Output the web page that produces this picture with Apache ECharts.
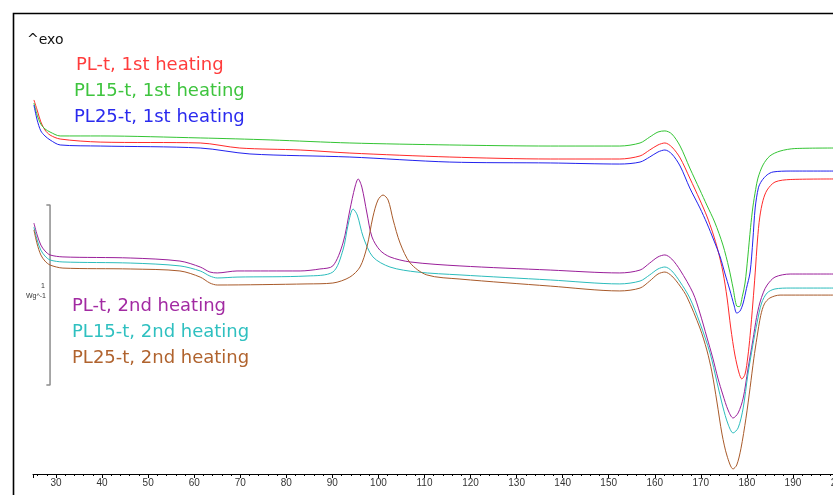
<!DOCTYPE html>
<html>
<head>
<meta charset="utf-8">
<script src="https://cdn.jsdelivr.net/npm/echarts@6/dist/echarts.min.js"></script>
<style>
html,body{margin:0;padding:0;background:#fff;}
#chart{width:833px;height:495px;}
</style>
</head>
<body>
<div id="chart"></div>
<script>
// Temperature (°C) vs. heat flow (W/g, curves vertically offset), exo up
var seriesNames = [
  "PL-t, 1st heating", "PL15-t, 1st heating", "PL25-t, 1st heating",
  "PL-t, 2nd heating", "PL15-t, 2nd heating", "PL25-t, 2nd heating"
];
var seriesColors = ["#ff2a2a", "#33c433", "#2222ee", "#9a1f9a", "#2cbcbc", "#a85a2a"];
var textColors = ["#ff3c3c", "#3ec43e", "#2a2aee", "#a22aa2", "#2fc0c0", "#b0632e"];

var pl1 = [
  [25.2,2.078],[25.9,2.022],[26.7,1.956],[27.6,1.911],[28.7,1.883],[30.9,1.861],[39.6,1.844],
  [61.3,1.839],[69.9,1.811],[83.0,1.800],[93.8,1.783],[115.5,1.761],[137.3,1.750],[152.4,1.750],
  [156.8,1.767],[158.9,1.800],[160.7,1.828],[162.2,1.839],[163.7,1.817],[165.5,1.756],[167.6,1.644],
  [169.8,1.522],[171.3,1.433],[172.6,1.339],[173.7,1.244],[174.8,1.122],[175.7,0.978],[176.5,0.811],
  [177.4,0.661],[178.3,0.561],[178.9,0.528],[179.6,0.555],[180.2,0.650],[180.7,0.770],[181.3,0.950],
  [181.8,1.117],[182.3,1.300],[182.8,1.428],[183.5,1.520],[184.4,1.578],[186.1,1.622],[189.4,1.636],
  [199.0,1.639]
];
var pl15_1 = [
  [25.2,2.061],[25.9,1.994],[26.7,1.944],[27.6,1.917],[28.7,1.900],[30.9,1.878],[39.6,1.878],
  [61.3,1.867],[76.5,1.856],[93.8,1.839],[115.5,1.828],[137.3,1.822],[152.4,1.822],[156.8,1.839],
  [158.9,1.872],[160.7,1.900],[162.2,1.906],[163.7,1.889],[165.5,1.822],[167.6,1.700],[169.8,1.578],
  [171.3,1.494],[173.0,1.400],[174.8,1.272],[176.1,1.144],[177.0,1.033],[177.8,0.933],[178.4,0.930],
  [179.0,0.985],[179.6,1.061],[180.2,1.206],[180.8,1.370],[181.3,1.483],[181.9,1.580],[182.4,1.644],
  [183.5,1.717],[185.0,1.767],[187.2,1.794],[190.4,1.808],[199.0,1.811]
];
var pl25_1 = [
  [25.2,2.050],[25.9,1.967],[26.7,1.906],[27.6,1.878],[28.7,1.856],[30.9,1.828],[39.6,1.822],
  [61.3,1.811],[72.1,1.778],[93.8,1.761],[115.5,1.733],[137.3,1.728],[152.4,1.722],[156.8,1.733],
  [158.9,1.761],[160.7,1.789],[162.2,1.800],[163.7,1.778],[165.5,1.711],[167.6,1.589],[169.8,1.478],
  [171.3,1.394],[172.8,1.300],[174.2,1.206],[175.2,1.117],[176.3,1.022],[177.2,0.939],[177.8,0.894],
  [178.5,0.905],[179.2,0.950],[179.9,1.030],[180.7,1.122],[181.3,1.300],[181.8,1.478],[182.5,1.590],
  [183.2,1.628],[184.4,1.662],[185.7,1.678],[189.4,1.683],[199.0,1.683]
];
var pl2 = [
  [25.2,1.394],[25.9,1.328],[26.7,1.272],[27.6,1.239],[28.7,1.217],[31.5,1.206],[46.1,1.200],
  [56.9,1.183],[61.3,1.150],[63.4,1.122],[65.0,1.117],[69.3,1.128],[83.0,1.128],[87.3,1.139],
  [90.1,1.156],[92.3,1.283],[93.8,1.467],[94.9,1.594],[95.6,1.639],[96.4,1.594],[97.5,1.450],
  [98.6,1.317],[100.3,1.244],[102.5,1.206],[106.9,1.178],[117.7,1.156],[137.3,1.133],[152.4,1.117],
  [156.8,1.133],[158.9,1.172],[160.7,1.206],[162.2,1.217],[163.7,1.194],[165.5,1.133],[168.3,1.006],
  [169.8,0.894],[171.3,0.761],[172.6,0.644],[173.7,0.533],[174.8,0.439],[175.9,0.356],[177.0,0.311],
  [178.1,0.339],[179.2,0.422],[180.2,0.578],[181.3,0.744],[182.1,0.870],[182.8,0.950],[183.6,1.010],
  [184.4,1.050],[186.1,1.094],[189.4,1.111],[199.0,1.111]
];
var pl15_2 = [
  [25.2,1.372],[25.9,1.300],[26.7,1.244],[27.6,1.211],[28.7,1.189],[31.5,1.178],[46.1,1.172],
  [56.9,1.156],[61.3,1.128],[63.4,1.100],[65.0,1.089],[69.3,1.094],[84.5,1.100],[90.1,1.122],
  [92.3,1.244],[93.4,1.383],[94.5,1.472],[95.4,1.439],[96.7,1.317],[98.8,1.206],[102.5,1.150],
  [108.4,1.122],[117.7,1.106],[137.3,1.078],[152.4,1.056],[156.8,1.072],[158.9,1.106],[160.7,1.139],
  [162.2,1.150],[163.7,1.128],[165.5,1.067],[167.6,0.978],[169.8,0.839],[172.0,0.672],[173.5,0.511],
  [174.8,0.372],[175.9,0.278],[177.0,0.228],[178.1,0.256],[179.2,0.367],[180.2,0.550],[181.3,0.717],
  [182.2,0.839],[183.2,0.950],[184.4,1.006],[186.1,1.028],[189.4,1.033],[199.0,1.033]
];
var pl25_2 = [
  [25.2,1.356],[25.9,1.278],[26.7,1.217],[27.6,1.183],[28.7,1.161],[31.5,1.144],[46.1,1.139],
  [56.9,1.128],[61.3,1.094],[63.4,1.061],[65.0,1.050],[84.5,1.056],[90.1,1.061],[93.8,1.094],
  [96.0,1.150],[97.5,1.261],[98.8,1.428],[99.9,1.522],[101.0,1.550],[102.1,1.522],[103.2,1.411],
  [104.7,1.283],[106.9,1.172],[110.5,1.106],[117.7,1.083],[137.3,1.044],[152.4,1.017],[156.8,1.033],
  [158.9,1.072],[160.7,1.111],[162.2,1.122],[163.7,1.100],[165.5,1.044],[167.0,0.983],[169.8,0.811],
  [171.3,0.689],[172.4,0.567],[173.5,0.400],[174.6,0.222],[175.7,0.100],[177.0,0.028],[177.8,0.050],
  [178.7,0.140],[179.8,0.310],[180.7,0.480],[181.5,0.640],[182.2,0.760],[183.0,0.880],[183.8,0.945],
  [185.0,0.978],[187.2,0.994],[199.0,0.994]
];
var allData = [pl1, pl15_1, pl25_1, pl2, pl15_2, pl25_2];

// scale bar: 1 W/g
var scaleBarX = 28.7;
var scaleBarFrom = 0.495;
var scaleBarTo = 1.495;
var scaleBarLabel = ["1", "Wg^-1"];
var exoLabel = "^exo";

var chart = echarts.init(document.getElementById('chart'), null, {renderer: 'canvas'});

var series = allData.map(function (d, i) {
  return {
    name: seriesNames[i],
    type: 'line',
    data: d,
    showSymbol: false,
    smooth: 0.3,
    lineStyle: {color: seriesColors[i], width: 1},
    itemStyle: {color: seriesColors[i]},
    silent: true,
    z: 3
  };
});
var capLen = 0.8;
series.push({
  type: 'line',
  data: [[scaleBarX - capLen, scaleBarTo], [scaleBarX, scaleBarTo], [scaleBarX, scaleBarFrom], [scaleBarX - capLen, scaleBarFrom]],
  showSymbol: false,
  lineStyle: {color: '#8c8c8c', width: 1.5},
  silent: true,
  z: 2
});

var textTops = [65, 91, 117, 306, 332, 358];
var textLefts = [76, 74, 74, 72, 72, 72];
var graphics = [
  {type: 'rect', left: 11, top: 11, shape: {x: 0, y: 0, width: 900, height: 600},
   style: {fill: 'none', stroke: '#000', lineWidth: 1.6}, silent: true, z: 10},
  {type: 'text', x: 27, y: 40, style: {text: exoLabel, fill: '#111', font: '14px "DejaVu Sans"', verticalAlign: 'middle'}, z: 10},
  {type: 'text', x: 45, y: 286, style: {text: scaleBarLabel[0], fill: '#333', font: '7px "Liberation Sans"', align: 'right', verticalAlign: 'middle'}, z: 10},
  {type: 'text', x: 46, y: 296, style: {text: scaleBarLabel[1], fill: '#333', font: '7px "Liberation Sans"', align: 'right', verticalAlign: 'middle'}, z: 10}
];
seriesNames.forEach(function (n, i) {
  graphics.push({type: 'text', x: textLefts[i], y: textTops[i],
    style: {text: n, fill: textColors[i], font: '18px "DejaVu Sans"', verticalAlign: 'middle'}, z: 10});
});

chart.setOption({
  animation: false,
  backgroundColor: '#fff',
  grid: {left: 33, top: 6, width: 806, height: 468, containLabel: false, outerBoundsMode: 'none'},
  xAxis: {
    type: 'value', min: 25, max: 200, splitNumber: 18,
    axisLine: {show: true, onZero: false, lineStyle: {color: '#000', width: 1}},
    axisTick: {show: true, length: 4, lineStyle: {color: '#000'}},
    minorTick: {show: true, splitNumber: 5, length: 2, lineStyle: {color: '#000'}},
    splitLine: {show: false},
    axisLabel: {color: '#333', fontSize: 10, fontFamily: '"Liberation Sans", Arial', margin: 4, showMinLabel: false, hideOverlap: false}
  },
  yAxis: {type: 'value', min: 0, max: 2.6, show: false},
  series: series,
  graphic: graphics
});
</script>
</body>
</html>
